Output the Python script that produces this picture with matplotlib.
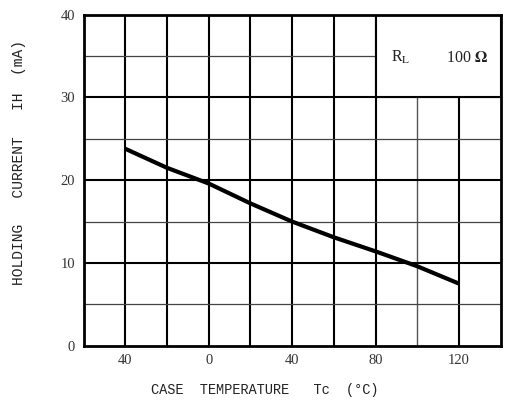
import matplotlib
matplotlib.use("Agg")
import matplotlib.pyplot as plt
import matplotlib.patches as patches

# holding current vs case temperature
temp = [-40, -20, 0, 20, 40, 60, 80, 100, 120]
ih_ma = [23.8, 21.5, 19.6, 17.2, 15.0, 13.1, 11.4, 9.6, 7.5]

xticks = [-40, 0, 40, 80, 120]
xtick_labels = ["40", "0", "40", "80", "120"]
yticks = [0, 10, 20, 30, 40]
ytick_labels = ["0", "10", "20", "30", "40"]

plt.rcParams['font.family'] = ['Liberation Serif', 'DejaVu Serif']
plt.rcParams['mathtext.fontset'] = 'stix'

fig = plt.figure(figsize=(5.07, 4.05), dpi=100)
ax = fig.add_axes([0.1647, 0.1464, 0.8229, 0.8173])
ax.set_xlim(-60, 140)
ax.set_ylim(0, 40)

# grid
for x in range(-40, 140, 20):
    if x == 100:
        ax.axvline(x, color='#555555', lw=1.0, zorder=1)
    else:
        ax.axvline(x, color='black', lw=1.5, zorder=1)
for y in range(5, 40, 5):
    if y % 10 == 0:
        ax.axhline(y, color='black', lw=1.5, zorder=1)
    else:
        ax.axhline(y, color='#444444', lw=0.9, zorder=1)

# legend box covering the grid in the upper right
box = patches.Rectangle((80, 30), 60, 10, facecolor='white', edgecolor='black',
                        lw=1.5, zorder=2)
ax.add_patch(box)
ax.text(87.5, 34.8, r"R$_{\rm L}$", fontsize=11.5, ha='left', va='center',
        color='#222222', zorder=3)
ax.text(134, 34.8, r"100 $\mathbf{\Omega}$", fontsize=11.5, ha='right', va='center',
        color='#222222', zorder=3)

ax.plot(temp, ih_ma, color='black', lw=3, solid_capstyle='butt', zorder=4)

for s in ax.spines.values():
    s.set_linewidth(2)
    s.set_zorder(5)

ax.set_xticks(xticks)
ax.set_xticklabels(xtick_labels)
ax.set_yticks(yticks)
ax.set_yticklabels(ytick_labels)
ax.tick_params(length=0, labelsize=10.5, pad=6, colors='#333333')

mono = ['Liberation Mono', 'DejaVu Sans Mono']
ax.set_xlabel("CASE  TEMPERATURE   Tc  (\u00b0C)", fontsize=9.8,
              color='#222222', family=mono)
ax.xaxis.set_label_coords(0.435, -0.113)
ax.set_ylabel("HOLDING   CURRENT   IH  (mA)", fontsize=10.5,
              color='#222222', family=mono)
ax.yaxis.set_label_coords(-0.138, 0.553)

fig.savefig("out.png", dpi=100)
